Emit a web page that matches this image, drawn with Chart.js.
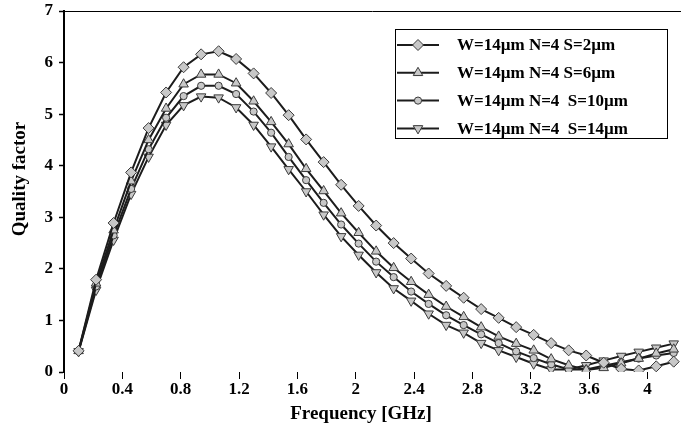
<!DOCTYPE html>
<html>
<head>
<meta charset="utf-8">
<script src="https://cdn.jsdelivr.net/npm/chart.js@4.4.1/dist/chart.umd.min.js"></script>
<style>
html, body { margin: 0; padding: 0; background: #fff; }
#wrap { width: 681px; height: 439px; }
</style>
</head>
<body>
<div id="wrap"><canvas id="qChart" width="681" height="439"></canvas></div>
<script>
// frequency points (GHz)
const freqGHz = [0.10, 0.22, 0.34, 0.46, 0.58, 0.70, 0.82, 0.94, 1.06, 1.18, 1.30, 1.42,
  1.54, 1.66, 1.78, 1.90, 2.02, 2.14, 2.26, 2.38, 2.50, 2.62, 2.74, 2.86, 2.98, 3.10,
  3.22, 3.34, 3.46, 3.58, 3.70, 3.82, 3.94, 4.06, 4.18];

// quality factor, one list per spacing S
const qS2 = [0.41, 1.79, 2.89, 3.87, 4.73, 5.42, 5.91, 6.16, 6.22, 6.07, 5.79, 5.41,
  4.98, 4.51, 4.07, 3.63, 3.22, 2.84, 2.50, 2.20, 1.91, 1.67, 1.44, 1.22, 1.05, 0.87,
  0.72, 0.56, 0.42, 0.32, 0.18, 0.06, 0.03, 0.11, 0.20];
const qS6 = [0.41, 1.72, 2.75, 3.70, 4.50, 5.11, 5.58, 5.77, 5.77, 5.60, 5.25, 4.85,
  4.42, 3.94, 3.51, 3.08, 2.70, 2.34, 2.02, 1.75, 1.50, 1.27, 1.07, 0.87, 0.69, 0.55,
  0.42, 0.25, 0.13, 0.04, 0.08, 0.17, 0.26, 0.36, 0.44];
const qS10 = [0.40, 1.66, 2.65, 3.55, 4.32, 4.93, 5.35, 5.55, 5.55, 5.39, 5.05, 4.64,
  4.17, 3.72, 3.28, 2.86, 2.49, 2.14, 1.84, 1.56, 1.32, 1.10, 0.91, 0.73, 0.56, 0.40,
  0.27, 0.15, 0.05, 0.05, 0.12, 0.19, 0.26, 0.32, 0.37];
const qS14 = [0.40, 1.59, 2.56, 3.45, 4.17, 4.79, 5.17, 5.34, 5.32, 5.13, 4.79, 4.37,
  3.93, 3.50, 3.05, 2.63, 2.27, 1.93, 1.62, 1.38, 1.13, 0.91, 0.76, 0.56, 0.42, 0.29,
  0.16, 0.05, 0.05, 0.13, 0.22, 0.31, 0.39, 0.47, 0.55];

const seriesLabels = ['W=14µm N=4 S=2µm', 'W=14µm N=4 S=6µm', 'W=14µm N=4  S=10µm', 'W=14µm N=4  S=14µm'];
const xTicks = [0, 0.4, 0.8, 1.2, 1.6, 2, 2.4, 2.8, 3.2, 3.6, 4];
const yTicks = [0, 1, 2, 3, 4, 5, 6, 7];

const SERIF = '"Liberation Serif", "Times New Roman", serif';
const LINE = '#1c1c1c';
const FILL = '#c8c8c8';
const EDGE = '#3a3a3a';

function pts(ys) {
    return freqGHz.map((f, i) => ({ x: f, y: ys[i] }));
}

function makeSet(label, ys, style, radius, rotation) {
    return {
        label: label,
        data: pts(ys),
        borderColor: LINE,
        borderWidth: 2,
        pointStyle: style,
        pointRadius: radius,
        pointRotation: rotation,
        pointBackgroundColor: FILL,
        pointBorderColor: EDGE,
        pointBorderWidth: 1,
        tension: 0
    };
}

// frame line on top of the plot
const topLine = {
    id: 'topLine',
    afterDraw(chart) {
        const { ctx, chartArea } = chart;
        ctx.save();
        ctx.strokeStyle = '#000';
        ctx.lineWidth = 1;
        ctx.beginPath();
        ctx.moveTo(chartArea.left, chartArea.top + 0.5);
        ctx.lineTo(chartArea.right, chartArea.top + 0.5);
        ctx.stroke();
        ctx.restore();
    }
};

// axis titles, placed like in the original figure
const axisTitles = {
    id: 'axisTitles',
    afterDraw(chart) {
        const ctx = chart.ctx;
        ctx.save();
        ctx.fillStyle = '#000';
        ctx.font = 'bold 19px ' + SERIF;
        ctx.textAlign = 'center';
        ctx.textBaseline = 'middle';
        ctx.fillText('Frequency [GHz]', 361, 414);
        ctx.translate(20, 179);
        ctx.rotate(-Math.PI / 2);
        ctx.fillText('Quality factor', 0, 0);
        ctx.restore();
    }
};

// boxed legend inside the plot, line + marker + label
const legendBox = {
    id: 'legendBox',
    afterDraw(chart) {
        const ctx = chart.ctx;
        ctx.save();
        ctx.strokeStyle = '#000';
        ctx.lineWidth = 1;
        ctx.strokeRect(395.5, 29.5, 272, 109);
        chart.data.datasets.forEach((ds, i) => {
            const y = 45 + i * 27.8;
            ctx.strokeStyle = LINE;
            ctx.lineWidth = 2;
            ctx.beginPath();
            ctx.moveTo(397, y);
            ctx.lineTo(439, y);
            ctx.stroke();
            ctx.fillStyle = FILL;
            ctx.strokeStyle = EDGE;
            ctx.lineWidth = 1;
            Chart.helpers.drawPoint(ctx, {
                pointStyle: ds.pointStyle,
                radius: ds.pointRadius,
                rotation: ds.pointRotation,
                borderWidth: 1
            }, 418, y);
            ctx.fillStyle = '#000';
            ctx.font = 'bold 17px ' + SERIF;
            ctx.textAlign = 'left';
            ctx.textBaseline = 'middle';
            ctx.fillText(ds.label, 457, y + 1);
        });
        ctx.restore();
    }
};

new Chart(document.getElementById('qChart'), {
    type: 'line',
    data: {
        datasets: [
            makeSet(seriesLabels[0], qS2, 'rectRot', 5.5, 0),
            makeSet(seriesLabels[1], qS6, 'triangle', 5.5, 0),
            makeSet(seriesLabels[2], qS10, 'circle', 3.6, 0),
            makeSet(seriesLabels[3], qS14, 'triangle', 5.5, 180)
        ]
    },
    options: {
        responsive: false,
        animation: false,
        layout: { autoPadding: false, padding: { top: 11, right: 0, left: 0, bottom: 0 } },
        plugins: {
            legend: { display: false },
            tooltip: { enabled: false }
        },
        scales: {
            x: {
                type: 'linear',
                min: 0,
                max: 4.23,
                afterBuildTicks: (scale) => { scale.ticks = xTicks.map(v => ({ value: v })); },
                afterFit: (scale) => {
                    scale.height = 67;
                    scale.paddingLeft = 0;
                    scale.paddingRight = 0;
                },
                ticks: {
                    color: '#000',
                    font: { family: SERIF, size: 17, weight: 'bold' },
                    padding: 0,
                    maxRotation: 0,
                    autoSkip: false,
                    callback: (v) => String(+Number(v).toFixed(1))
                },
                grid: { drawOnChartArea: false, color: '#000', tickLength: 7, tickWidth: 1 },
                border: { display: false }
            },
            y: {
                min: 0,
                max: 7,
                afterBuildTicks: (scale) => { scale.ticks = yTicks.map(v => ({ value: v })); },
                afterFit: (scale) => {
                    scale.width = 64;
                    scale.paddingTop = 0;
                    scale.paddingBottom = 0;
                },
                ticks: {
                    color: '#000',
                    font: { family: SERIF, size: 17, weight: 'bold' },
                    padding: 6
                },
                grid: { drawOnChartArea: false, color: '#000', tickLength: 5, tickWidth: 1.5 },
                border: { display: true, color: '#000', width: 2 }
            }
        }
    },
    plugins: [topLine, axisTitles, legendBox]
});
</script>
</body>
</html>
